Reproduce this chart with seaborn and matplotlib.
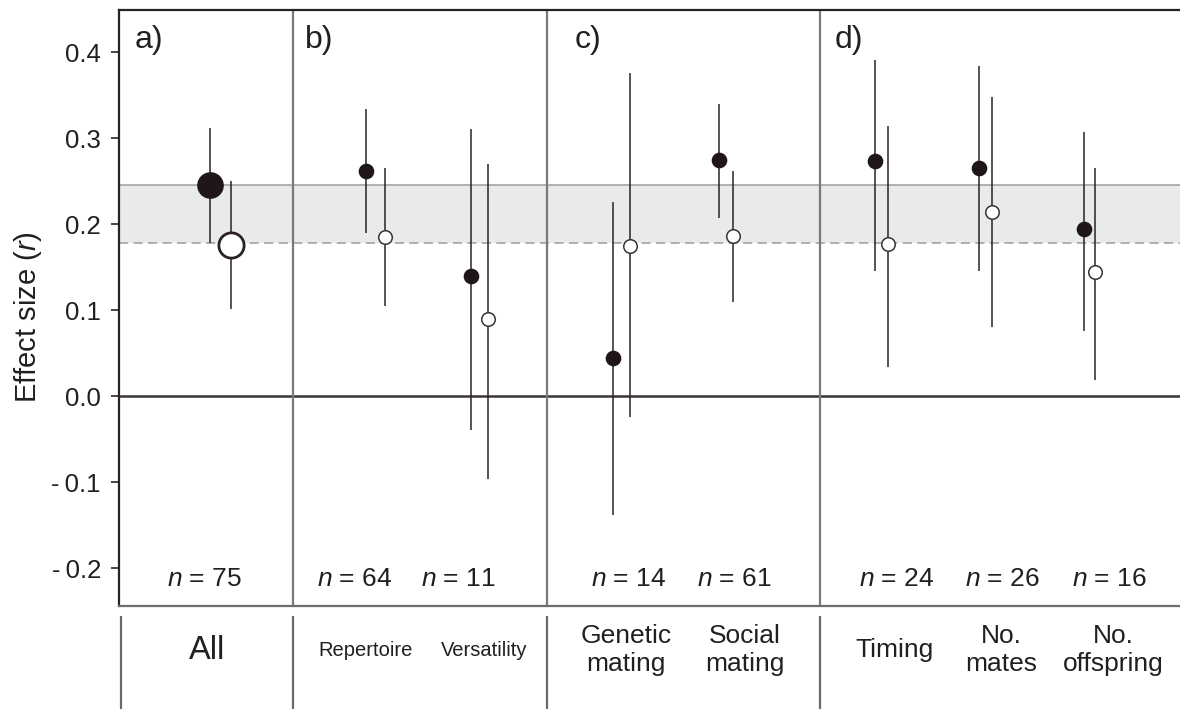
import matplotlib
matplotlib.use("Agg")
import matplotlib.pyplot as plt
import seaborn as sns
import pandas as pd

# ---------------- data ----------------
categories = ["All", "Repertoire", "Versatility", "Genetic\nmating", "Social\nmating",
              "Timing", "No.\nmates", "No.\noffspring"]
panel_letters = ["a)", "b)", "c)", "d)"]
n_values = [75, 64, 11, 14, 61, 24, 26, 16]

filled_mean = [0.246, 0.262, 0.140, 0.044, 0.275, 0.273, 0.265, 0.194]
filled_lo = [0.178, 0.190, -0.039, -0.138, 0.207, 0.145, 0.145, 0.076]
filled_hi = [0.312, 0.334, 0.311, 0.226, 0.340, 0.391, 0.384, 0.307]

open_mean = [0.176, 0.185, 0.090, 0.175, 0.186, 0.177, 0.214, 0.144]
open_lo = [0.101, 0.105, -0.096, -0.024, 0.109, 0.034, 0.080, 0.019]
open_hi = [0.250, 0.265, 0.270, 0.376, 0.262, 0.314, 0.348, 0.265]

band_lo, band_hi = 0.178, 0.246
yticks = [-0.2, -0.1, 0.0, 0.1, 0.2, 0.3, 0.4]
ytick_labels = ["-\u20090.2", "-\u20090.1", "0.0", "0.1", "0.2", "0.3", "0.4"]

# ---------------- layout ----------------
filled_pos = [91, 247, 352, 494, 600, 756, 860, 965]
open_pos = [112, 266, 369, 511, 614, 769, 873, 976]
n_label_pos = [85, 236, 339, 510, 615, 778, 883, 990]
cat_label_pos = [88, 247, 365, 507, 626, 776, 882, 994]
separators = [174, 428, 701]
letter_pos = [16, 186, 456, 716]
big = [True, False, False, False, False, False, False, False]

sns.set_theme(style="white")
plt.rcParams['font.family'] = ['Liberation Sans', 'DejaVu Sans']
plt.rcParams['mathtext.fontset'] = 'custom'
plt.rcParams['mathtext.rm'] = 'Liberation Sans'
plt.rcParams['mathtext.it'] = 'Liberation Sans:italic'

dark = '#2a2222'
gray = '#7a7a7a'
txt = '#231f20'

fig = plt.figure(figsize=(11.8, 7.09), dpi=100)
ax = fig.add_axes([119 / 1180, 103 / 709, 1061 / 1180, 596 / 709])
lab = fig.add_axes([119 / 1180, 0, 1061 / 1180, 93 / 709])

df_f = pd.DataFrame({"x": filled_pos, "y": filled_mean, "big": big})
df_o = pd.DataFrame({"x": open_pos, "y": open_mean, "big": big})

# band
ax.axhspan(band_lo, band_hi, color='#e9ebeb', lw=0, zorder=0)
ax.axhline(band_hi, color='#9c9c9c', lw=1.1, zorder=1)
ax.axhline(band_lo, color='#9c9c9c', lw=1.1, ls=(0, (6, 3.5)), zorder=1)
ax.axhline(0, color='#3b3535', lw=1.8, zorder=1)
for s in separators:
    ax.axvline(s, color=gray, lw=1.6, zorder=1)

# CIs
ax.vlines(filled_pos, filled_lo, filled_hi, color=dark, lw=1.1, zorder=2)
ax.vlines(open_pos, open_lo, open_hi, color=dark, lw=1.1, zorder=2)

# markers
sns.scatterplot(data=df_f[df_f.big], x="x", y="y", ax=ax, s=330, color='#1e1617',
                edgecolor='#1e1617', linewidth=1, zorder=3, legend=False)
sns.scatterplot(data=df_f[~df_f.big], x="x", y="y", ax=ax, s=105, color='#1e1617',
                edgecolor='#1e1617', linewidth=1, zorder=3, legend=False)
sns.scatterplot(data=df_o[df_o.big], x="x", y="y", ax=ax, s=330, color='white',
                edgecolor=dark, linewidth=2.0, zorder=3, legend=False)
sns.scatterplot(data=df_o[~df_o.big], x="x", y="y", ax=ax, s=95, color='white',
                edgecolor='#3a3333', linewidth=1.1, zorder=3, legend=False)

ax.set_xlim(0, 1061)
ax.set_ylim(-0.244, 0.449)
ax.set_xticks([])
ax.set_yticks(yticks)
ax.set_yticklabels(ytick_labels, fontsize=18.5, color=txt)
ax.tick_params(axis='y', left=True, direction='out', length=6, width=1.2,
               color=dark, pad=7)
ax.set_xlabel("")
ax.set_ylabel("")
for side in ['top', 'left']:
    ax.spines[side].set_color(dark)
    ax.spines[side].set_linewidth(1.6)
ax.spines['bottom'].set_color('#6e6e6e')
ax.spines['bottom'].set_linewidth(1.6)
ax.spines['right'].set_visible(False)

for x, t in zip(letter_pos, panel_letters):
    ax.text(x, 0.414, t, fontsize=23, ha='left', va='center', color=txt)

for x, n in zip(n_label_pos, n_values):
    ax.text(x, -0.221, r"$\it{n}$ = " + str(n), fontsize=19, ha='center',
            va='baseline', color=txt)

fig.text(28 / 1180, 0.553, r"Effect size ($\it{r}$)", rotation=90, fontsize=21,
         ha='center', va='center', color=txt)

# label strip
lab.set_xlim(0, 1061)
lab.set_ylim(0, 1)
lab.axis('off')
lab.vlines([1.5] + separators, 0, 1, color='#6a6a6a', lw=1.6)
for x, c in zip(cat_label_pos, categories):
    if c == "All":
        lab.text(x, 0.634, c, fontsize=23.5, ha='center', va='center', color=txt)
    elif c in ("Repertoire", "Versatility"):
        lab.text(x, 0.634, c, fontsize=14.5, ha='center', va='center', color=txt)
    else:
        lab.text(x, 0.634, c, fontsize=19, ha='center', va='center', color=txt,
                 linespacing=1.2)

fig.savefig("out.png", dpi=100)
